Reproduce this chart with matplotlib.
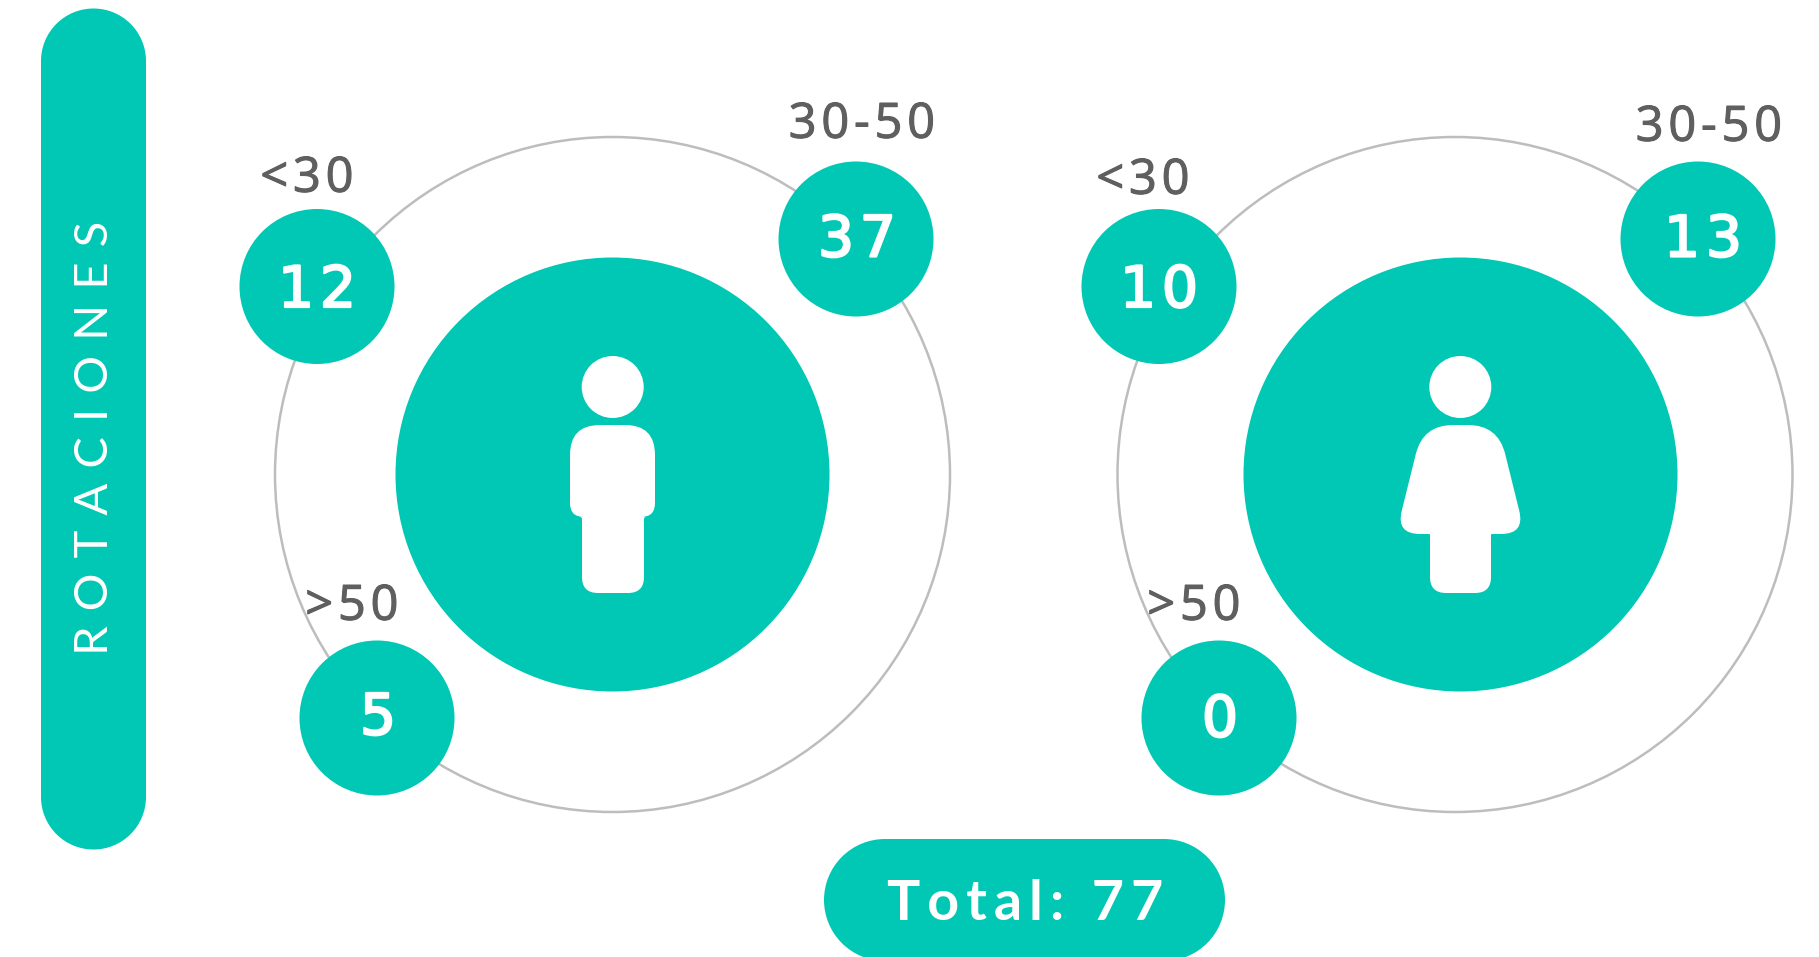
import matplotlib
matplotlib.use('Agg')
import matplotlib.pyplot as plt
import matplotlib.patheffects as pe
from matplotlib.patches import Circle, FancyBboxPatch, PathPatch
from matplotlib.path import Path

# values
age_groups = ['<30', '30-50', '>50']
men_counts = [12, 37, 5]
women_counts = [10, 13, 0]
side_title = 'ROTACIONES'
total_text = 'Total: 77'

TEAL = '#00C8B4'
RING = '#bdbdbd'
GREY = '#5f5f5f'
FONT = ['Lato', 'DejaVu Sans']
LABEL_FONT = ['Open Sans', 'DejaVu Sans']
HAIR = '\u200a'


def spaced(s, n=1):
    return (HAIR * n).join(s)


def rounded_poly(points, radii):
    # polygon with rounded corners, quadratic curve on each corner
    verts = []
    codes = []
    n = len(points)
    for i in range(n):
        x, y = points[i]
        px, py = points[i - 1]
        nx, ny = points[(i + 1) % n]
        r = radii[i]
        d1 = ((px - x) ** 2 + (py - y) ** 2) ** 0.5
        d2 = ((nx - x) ** 2 + (ny - y) ** 2) ** 0.5
        a = (x + (px - x) * r / d1, y + (py - y) * r / d1)
        b = (x + (nx - x) * r / d2, y + (ny - y) * r / d2)
        verts.append(a)
        codes.append(Path.MOVETO if i == 0 else Path.LINETO)
        verts += [(x, y), b]
        codes += [Path.CURVE3, Path.CURVE3]
    verts.append(verts[0])
    codes.append(Path.CLOSEPOLY)
    return Path(verts, codes)


def draw_group(ax, ring_c, inner_c, bubbles, labels, counts, nudges):
    ax.add_patch(Circle(ring_c, 337.5, fc='none', ec=RING, lw=1.8, zorder=1))
    ax.add_patch(Circle(inner_c, 217, fc=TEAL, ec='none', zorder=2))
    for pos, lab_pos, group, count, nudge in zip(bubbles, labels, age_groups, counts, nudges):
        ax.add_patch(Circle(pos, 77.5, fc=TEAL, ec='none', zorder=3))
        t = ax.text(pos[0] + nudge[0], pos[1] + nudge[1], spaced(str(count)), color='white', fontsize=41,
                    family='DejaVu Sans', ha='center', va='center_baseline', zorder=4)
        t.set_path_effects([pe.withStroke(linewidth=1.6, foreground='white')])
        lab = ax.text(lab_pos[0], lab_pos[1], spaced(group), color=GREY, fontsize=35, family=LABEL_FONT,
                      ha='center', va='center_baseline', zorder=4)
        lab.set_path_effects([pe.withStroke(linewidth=0.8, foreground=GREY)])


fig = plt.figure(figsize=(18.19, 9.57), dpi=100)
ax = fig.add_axes([0, 0, 1, 1])
ax.set_xlim(0, 1819)
ax.set_ylim(957, 0)
ax.axis('off')

# side bar
ax.add_patch(FancyBboxPatch((41, 61), 105, 736, boxstyle='square,pad=0', fc=TEAL, ec='none', zorder=1))
ax.add_patch(Circle((93.5, 61), 52.5, fc=TEAL, ec='none', zorder=1))
ax.add_patch(Circle((93.5, 797), 52.5, fc=TEAL, ec='none', zorder=1))
ax.text(95.5, 438, spaced(side_title, 5), color='white', fontsize=34, rotation=90, family=FONT,
        ha='center', va='center', zorder=2)

# men
draw_group(ax, (612.5, 474.5), (612.5, 474.5),
           [(317, 286.5), (856, 239), (377, 718)],
           [(307, 173), (862, 119), (352, 601)], men_counts,
           [(0, -1), (1, -4), (1, -5)])
ax.add_patch(Circle((612.7, 387), 31, fc='white', ec='none', zorder=3))
man = rounded_poly([(570, 425), (655, 425), (655, 517), (644, 517), (644, 593), (582, 593), (582, 517), (570, 517)],
                   [30, 30, 14, 2, 16, 16, 2, 14])
ax.add_patch(PathPatch(man, fc='white', ec='none', zorder=3))

# women
draw_group(ax, (1455, 474.5), (1460.5, 474.5),
           [(1159, 286.5), (1698, 239), (1219, 718)],
           [(1143, 175), (1709, 122), (1194, 601)], women_counts,
           [(0, -1), (5, -4), (1, -3)])
ax.add_patch(Circle((1460.3, 387), 31, fc='white', ec='none', zorder=3))
woman = rounded_poly([(1423, 425), (1498, 425), (1525, 534), (1491, 534), (1491, 593), (1430, 593), (1430, 534), (1396, 534)],
                     [30, 30, 24, 1, 16, 16, 1, 24])
ax.add_patch(PathPatch(woman, fc='white', ec='none', zorder=3))

# total pill, runs off the bottom edge
ax.add_patch(FancyBboxPatch((885, 839), 279, 122, boxstyle='square,pad=0', fc=TEAL, ec='none', zorder=1))
ax.add_patch(Circle((885, 900), 61, fc=TEAL, ec='none', zorder=1))
ax.add_patch(Circle((1164, 900), 61, fc=TEAL, ec='none', zorder=1))
ax.text(1025, 900, spaced(total_text, 2), color='white', fontsize=40, fontweight='bold', family=FONT,
        ha='center', va='center_baseline', zorder=2)

fig.savefig('out.png', dpi=100)
